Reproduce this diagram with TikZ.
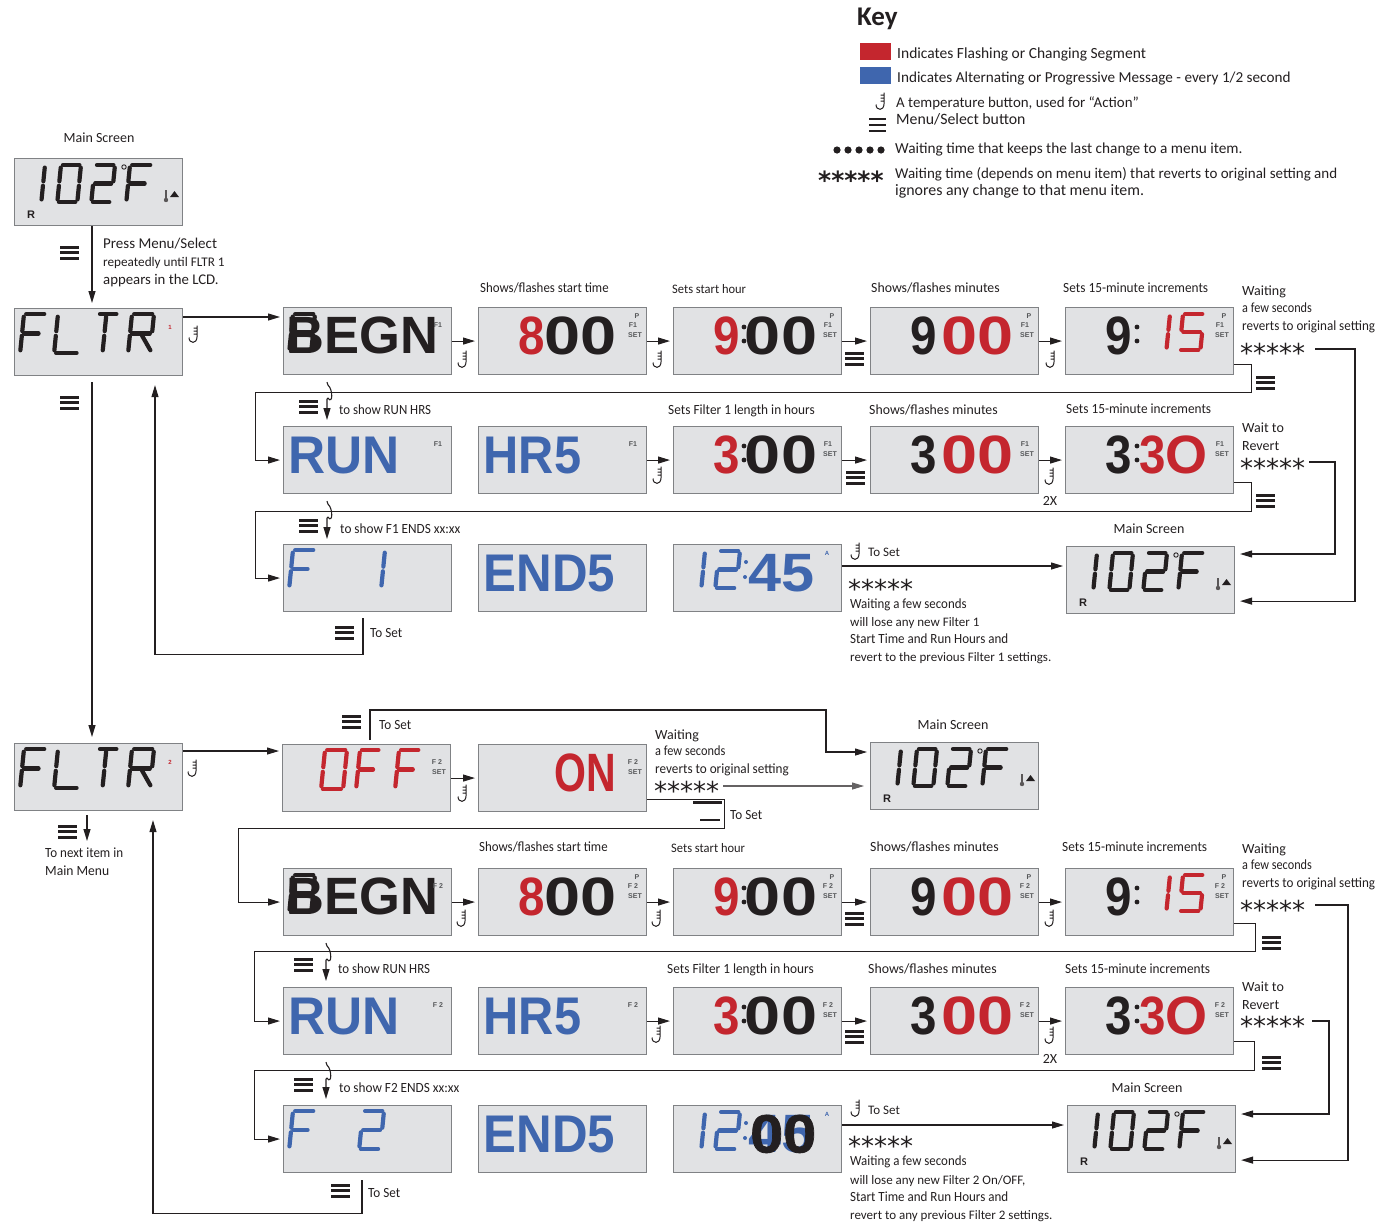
\documentclass[tikz,border=0pt]{standalone}
\usepackage{graphicx}
\usepackage{fontspec}
\setmainfont{Carlito}
\newfontfamily\lcdfont{Liberation Sans}[BoldFont=* Bold]
\newfontfamily\lcdfat{Liberation Sans Bold}[FakeBold=1.2]
\newfontfamily\dvfont{DejaVu Sans}
\usetikzlibrary{arrows.meta,calc}
\definecolor{ink}{HTML}{231F20}
\definecolor{lcdred}{HTML}{C4262E}
\definecolor{lcdblue}{HTML}{3F66AE}
\definecolor{lcdbg}{HTML}{E1E2E4}
\definecolor{lcdedge}{HTML}{808285}
\definecolor{tagcol}{HTML}{555759}
\tikzset{
 lcdbox/.style={draw=lcdedge,fill=lcdbg,line width=1.1pt,minimum width=168pt,minimum height=67pt,inner sep=0pt,anchor=north west},
 txt/.style={anchor=west,inner sep=0pt,text=ink,text height=12pt,text depth=3pt,font=\fontsize{14}{14}\selectfont},
 ctr/.style={txt,anchor=center},
 fs/.style={font=\fontsize{#1}{#1}\selectfont},
 small/.style={font=\fontsize{13}{13}\selectfont},
 tagtxt/.style={inner sep=0pt,text=tagcol,font=\lcdfont\bfseries\fontsize{7}{7}\selectfont},
 bigt/.style={anchor=base west,inner sep=0pt,text=ink,font=\lcdfont\bfseries\fontsize{54}{54}\selectfont},
 conn/.style={draw=ink,line width=1.1pt},
 arr/.style={conn,-{Triangle[length=12pt,width=7pt]},shorten >=3pt},
 starry/.style={anchor=base west,inner sep=0pt,text=ink,font=\dvfont\fontsize{26}{26}\selectfont},
}
\newcounter{nn}
\newcommand\sx[2]{\scalebox{#1}[1]{#2}}
\newcommand\lbl[4][]{\stepcounter{nn}\node[txt,#1] (n\arabic{nn}) at (#2,#3) {#4};}
\newcommand\Sa{\draw[sg] (.1,0)--(.92,0);}
\newcommand\Sb{\draw[sg] (1,.07)--(1,.44);}
\newcommand\Sc{\draw[sg] (1,.56)--(1,.93);}
\newcommand\Sd{\draw[sg] (.08,1)--(.9,1);}
\newcommand\Se{\draw[sg] (0,.56)--(0,.93);}
\newcommand\Sf{\draw[sg] (0,.07)--(0,.44);}
\newcommand\Sg{\draw[sg] (.1,.5)--(.75,.5);}
\newcommand\Sh{\draw[sg] (.1,.5)--(.9,.5);}
\newcommand\Zero{\Sa\Sb\Sc\Sd\Se\Sf}
\newcommand\Two{\Sa\Sb\Sh\Se\Sd}
\newcommand\Five{\Sa\Sf\Sh\Sc\Sd}
\newcommand\Eff{\Sa\Sf\Se\Sg}
\newcommand\One{\Sb\Sc}
\newcommand\seven[6]{\begin{scope}[shift={(#1,#2)},xslant=0.1,xscale=#3,yscale=#4,sg/.style={draw=#5,line width=4.2pt,line cap=round}]#6\end{scope}}
\newcommand\screen[4]{\node[lcdbox] (#1) at (#2,#3) {};\begin{scope}[shift={(#2,#3)}]#4\end{scope}}
\newcommand\tagt[3]{\stepcounter{nn}\node[tagtxt] (n\arabic{nn}) at (#1,#2) {#3};}
\newcommand\Pset[1]{\tagt{159}{9}{P}\tagt{155}{18}{#1}\tagt{157}{28}{SET}}
\newcommand\Fset[1]{\tagt{155}{18}{#1}\tagt{157}{28}{SET}}
\newcommand\Fonly[1]{\tagt{155}{18}{#1}}
\newcommand\bigT[3][]{\stepcounter{nn}\node[bigt,#1] (n\arabic{nn}) at (#2,47.5) {#3};}
\newcommand\OO{\sx{1.2}{0}}
\newcommand\NN[1]{\sx{.88}{#1}}
\newcommand\hk[3]{\begin{scope}[shift={(#1,#2)},rotate=#3]
 \draw[ink,line width=1pt] (3,-8.5)--(3,3) .. controls (3,10) and (-5,10) .. (-5,3.5) (3,-6)--(-.5,-6) (3,-3)--(-.5,-3) (3,0)--(-.5,0);
 \end{scope}}
\newcommand\mnu[2]{\draw[ink,line width=3pt] (#1,#2+1)--+(19,0) (#1,#2+6.5)--+(19,0) (#1,#2+12)--+(19,0);}
\newcommand\strs[3][]{\stepcounter{nn}\node[starry,#1] (n\arabic{nn}) at (#2,#3+14) {*****};}
\newcommand\mainlcd[3]{\screen{#1}{#2}{#3}{
 \seven{31}{7}{.01}{37}{ink}{\One}
 \seven{47}{7}{20}{37}{ink}{\Zero}
 \seven{81}{7}{20}{37}{ink}{\Two}
 \seven{116}{7}{22}{37}{ink}{\Eff}
 \draw[ink,line width=.9pt] (110,9) circle (2.2);
 \draw[ink!75,line width=2.2pt] (152,32)--(152,41);
 \fill[ink!75] (152,42) circle (2.2);
 \fill[ink] (156,39)--(165,39)--(160.5,33)--cycle;
 \stepcounter{nn}\node[inner sep=0pt,text=ink,font=\lcdfont\bfseries\fontsize{11}{11}\selectfont] (n\arabic{nn}) at (17,57) {R};
}}
\newcommand\fltr[4]{\screen{#1}{#2}{#3}{
 \seven{10}{6}{22}{39}{ink}{\Eff}
 \seven{44}{6}{25}{39}{ink}{\Sf\Se\Sd}
 \seven{84}{6}{20}{39}{ink}{\Sa\draw[sg] (.42,.07)--(.42,.44) (.42,.56)--(.42,.93);}
 \seven{118}{6}{22}{39}{ink}{\Sa\Sf\Se\Sh\Sb\draw[sg] (.55,.55)--(1,.93);}
 \stepcounter{nn}\node[inner sep=0pt,text=lcdred,font=\lcdfont\bfseries\fontsize{6}{6}\selectfont] (n\arabic{nn}) at (156,19) {#4};
}}
\newcommand\begn[4]{\screen{#1}{#2}{#3}{
 \seven{10}{7}{22}{37}{ink}{\Zero\Sh}
 \stepcounter{nn}\node[bigt,anchor=base west,font=\lcdfont\bfseries\fontsize{52.5}{52.5}\selectfont] (n\arabic{nn}) at (3.5,46) {BEGN};
 \Fonly{#4}
}}
\newcommand\eightb[4]{\screen{#1}{#2}{#3}{\bigT{40}{\textcolor{lcdred}{\NN{8}}\OO\OO}\Pset{#4}}}
\newcommand\ninea[4]{\screen{#1}{#2}{#3}{\fill[ink] (71,20) circle (2.4) (71,34) circle (2.4);\bigT{40.5}{\textcolor{lcdred}{\NN{9}}\kern4pt\OO\kern1pt\OO}\Pset{#4}}}
\newcommand\nineb[4]{\screen{#1}{#2}{#3}{\bigT{40.5}{\NN{9}\kern4pt\textcolor{lcdred}{\OO\OO}}\Pset{#4}}}
\newcommand\fifteen[4]{\screen{#1}{#2}{#3}{\bigT{40.5}{\NN{9}}\fill[ink] (72,20) circle (2.4) (72,34) circle (2.4);
 \seven{105}{7}{.01}{36}{lcdred}{\One}
 \seven{118}{7}{21}{36}{lcdred}{\Five}\Pset{#4}}}
\newcommand\threea[4]{\screen{#1}{#2}{#3}{\fill[ink] (71,20) circle (2.4) (71,34) circle (2.4);\bigT{40.5}{\textcolor{lcdred}{\NN{3}}\kern4pt\OO\kern1pt\OO}\Fset{#4}}}
\newcommand\threeb[4]{\screen{#1}{#2}{#3}{\bigT{40.5}{\NN{3}\kern4pt\textcolor{lcdred}{\OO\OO}}\Fset{#4}}}
\newcommand\thirty[4]{\screen{#1}{#2}{#3}{\bigT{40.5}{\NN{3}}\fill[ink] (72,20) circle (2.4) (72,34) circle (2.4);\bigT{74}{\textcolor{lcdred}{\NN{3}O}}\Fset{#4}}}
\newcommand\runl[4]{\screen{#1}{#2}{#3}{\bigT[font=\lcdfont\bfseries\fontsize{53}{53}\selectfont]{5.5}{\textcolor{lcdblue}{\sx{.97}{RUN}}}\Fonly{#4}}}
\newcommand\hrl[4]{\screen{#1}{#2}{#3}{\bigT[font=\lcdfont\bfseries\fontsize{53}{53}\selectfont]{5.5}{\textcolor{lcdblue}{\sx{.92}{HR5}}}\Fonly{#4}}}
\newcommand\ndfive[3]{\screen{#1}{#2}{#3}{\bigT[font=\lcdfont\bfseries\fontsize{53}{53}\selectfont]{5.5}{\textcolor{lcdblue}{\sx{.93}{END5}}}}}
\newcommand\clkdig{\seven{32}{7}{.01}{37}{lcdblue}{\One}
 \seven{46}{7}{21}{37}{lcdblue}{\Two}
 \fill[lcdblue] (73,18) circle (2) (72,33) circle (2);
 \stepcounter{nn}\node[inner sep=0pt,text=lcdblue,font=\lcdfont\bfseries\fontsize{6}{6}\selectfont] (n\arabic{nn}) at (154,9) {A};
 \bigT{75}{\textcolor{lcdblue}{\sx{1.1}{45}}}}
\newcommand\squig[3]{\draw[conn,-{Triangle[length=12pt,width=7pt]}] ($(#1.south west)+(#2,7)$) --++(1,3) .. controls +(5,4) and +(5,7) .. ++(0,13) --++(-1,1) -- (#3);}
\begin{document}
\begin{tikzpicture}[x=1pt,y=-1pt]
\useasboundingbox (0,0) rectangle (1390,1224);
% Key
\node[anchor=west,inner sep=0pt,text=ink,font=\bfseries\fontsize{27}{27}\selectfont] (keyt) at (857,19) {Key};
\fill[lcdred] (860,43) rectangle (891,60);
\fill[lcdblue] (860,67) rectangle (891,84);
\lbl[fs=15.5]{897}{54}{Indicates Flashing or Changing Segment}
\lbl[fs=15.2]{897}{78}{Indicates Alternating or Progressive Message - every 1/2 second}
\hk{881}{101}{0}
\lbl[fs=14.9]{896}{103}{A temperature button, used for “Action”}
\lbl[fs=15.8]{896}{120}{Menu/Select button}
\draw[ink,line width=2.4pt] (869,119)--(886,119) (869,125)--(886,125) (869,131)--(886,131);
\fill[ink] (837,150) circle (3.6) (848,150) circle (3.6) (859,150) circle (3.6) (870,150) circle (3.6) (881,150) circle (3.6);
\lbl[fs=15.3]{895}{149}{Waiting time that keeps the last change to a menu item.}
\strs[font=\dvfont\bfseries\fontsize{25}{25}\selectfont]{818}{175}
\lbl[fs=15]{895}{174}{Waiting time (depends on menu item) that reverts to original setting and}
\lbl[fs=15.9]{895}{191}{ignores any change to that menu item.}
% top-left
\lbl[ctr]{99}{138}{Main Screen}
\mainlcd{mainT}{14}{158}
\fltr{fltrA}{14}{308}{1}
\mnu{60}{246}
\lbl[fs=15]{103}{244}{Press Menu/Select}
\lbl[fs=13.2]{103}{262}{repeatedly until FLTR 1}
\lbl[fs=14.8]{103}{280}{appears in the LCD.}
\hk{194}{334}{0}
\mnu{60}{396}
% row 1
\begn{begnA}{283}{307}{F1}
\eightb{sA}{478}{307}{F1}
\ninea{nA}{673}{307}{F1}
\nineb{mA}{870}{307}{F1}
\fifteen{qA}{1065}{307}{F1}
\lbl{480}{288}{\sx{.92}{Shows/flashes start time}}
\lbl[small]{672}{289}{\sx{.96}{Sets start hour}}
\lbl{871}{288}{\sx{.985}{Shows/flashes minutes}}
\lbl{1063}{288}{\sx{.95}{Sets 15-minute increments}}
\lbl{1242}{291}{Waiting}
\lbl{1242}{308}{\sx{.875}{a few seconds}}
\lbl{1242}{326}{\sx{.935}{reverts to original setting}}
\strs{1240}{348}
\hk{463}{359}{0}\hk{658}{359}{0}\hk{1051}{359}{0}
\mnu{845}{352}\mnu{1256}{376}\mnu{299}{400}
\lbl{339}{410}{\sx{.92}{to show RUN HRS}}
% row 2
\runl{runA}{283}{426}{F1}
\hrl{hrA}{478}{426}{F1}
\threea{tA}{673}{426}{F1}
\threeb{uA}{870}{426}{F1}
\thirty{vA}{1065}{426}{F1}
\lbl{668}{410}{\sx{.95}{Sets Filter 1 length in hours}}
\lbl{869}{410}{\sx{.985}{Shows/flashes minutes}}
\lbl{1066}{409}{\sx{.95}{Sets 15-minute increments}}
\lbl{1242}{428}{Wait to}
\lbl{1242}{446}{Revert}
\strs{1240}{463}
\hk{658}{475}{0}\hk{1050}{476}{0}
\lbl[ctr]{1050}{501}{2X}
\mnu{846}{471}\mnu{1256}{494}\mnu{299}{519}
\lbl{340}{529}{\sx{.945}{to show F1 ENDS xx:xx}}
% row 3
\screen{fA}{283}{544}{\seven{10}{6}{22}{38}{lcdblue}{\Eff}\seven{102}{6}{.01}{38}{lcdblue}{\One}}
\ndfive{eA}{478}{544}
\screen{cA}{673}{544}{\clkdig}
\mainlcd{mainA}{1066}{546}
\lbl[ctr]{1149}{529}{Main Screen}
\hk{856}{551}{0}
\lbl[small]{868}{552}{To Set}
\strs{848}{584}
\lbl{850}{604}{\sx{.92}{Waiting a few seconds}}
\lbl[small]{850}{622}{will lose any new Filter 1}
\lbl{850}{639}{\sx{.93}{Start Time and Run Hours and}}
\lbl[small]{850}{657}{revert to the previous Filter 1 settings.}
\mnu{335}{626}
\lbl{370}{633}{\sx{.94}{To Set}}
% second block
\fltr{fltrB}{14}{743}{2}
\hk{193}{768}{0}
\mnu{58}{825}
\lbl{45}{853}{\sx{.93}{To next item in}}
\lbl{45}{871}{\sx{.97}{Main Menu}}
\screen{off}{282}{744}{
 \seven{43}{6}{22}{39}{lcdred}{\Zero}
 \seven{78}{6}{20}{39}{lcdred}{\Eff}
 \seven{117}{6}{21}{39}{lcdred}{\Eff}
 \Fset{F 2}}
\screen{on}{478}{744}{\bigT[anchor=base east]{138}{\textcolor{lcdred}{\sx{.76}{ON}}}\Fset{F 2}}
\mainlcd{mainC}{870}{742}
\lbl[ctr]{953}{725}{Main Screen}
\mnu{342}{715}
\lbl{379}{725}{\sx{.94}{To Set}}
\hk{463}{793}{0}
\lbl{655}{735}{Waiting}
\lbl{655}{751}{\sx{.88}{a few seconds}}
\lbl{655}{769}{\sx{.94}{reverts to original setting}}
\strs{654}{786}
\draw[ink,line width=3pt] (693,802)--(722,802);
\draw[ink,line width=2.4pt] (700,820)--(720,820);
\lbl{730}{815}{\sx{.94}{To Set}}
% row 4
\begn{begnB}{283}{868}{F 2}
\eightb{sB}{478}{868}{F 2}
\ninea{nB}{673}{868}{F 2}
\nineb{mB}{870}{868}{F 2}
\fifteen{qB}{1065}{868}{F 2}
\lbl{479}{847}{\sx{.92}{Shows/flashes start time}}
\lbl[small]{671}{848}{\sx{.96}{Sets start hour}}
\lbl{870}{847}{\sx{.985}{Shows/flashes minutes}}
\lbl{1062}{847}{\sx{.95}{Sets 15-minute increments}}
\lbl{1242}{849}{Waiting}
\lbl{1242}{865}{\sx{.875}{a few seconds}}
\lbl{1242}{883}{\sx{.935}{reverts to original setting}}
\strs{1240}{905}
\hk{462}{918}{0}\hk{657}{918}{0}\hk{1050}{918}{0}
\mnu{845}{912}\mnu{1262}{936}\mnu{294}{958}
\lbl{338}{969}{\sx{.92}{to show RUN HRS}}
% row 5
\runl{runB}{283}{987}{F 2}
\hrl{hrB}{478}{987}{F 2}
\threea{tB}{673}{987}{F 2}
\threeb{uB}{870}{987}{F 2}
\thirty{vB}{1065}{987}{F 2}
\lbl{667}{969}{\sx{.95}{Sets Filter 1 length in hours}}
\lbl{868}{969}{\sx{.985}{Shows/flashes minutes}}
\lbl{1065}{969}{\sx{.95}{Sets 15-minute increments}}
\lbl{1242}{987}{Wait to}
\lbl{1242}{1005}{Revert}
\strs{1240}{1021}
\hk{657}{1034}{0}\hk{1050}{1035}{0}
\lbl[ctr]{1050}{1059}{2X}
\mnu{845}{1030}\mnu{1262}{1056}\mnu{294}{1078}
\lbl{339}{1088}{\sx{.945}{to show F2 ENDS xx:xx}}
% row 6
\screen{fB}{283}{1105}{\seven{10}{6}{22}{38}{lcdblue}{\Eff}\seven{80}{6}{21}{38}{lcdblue}{\Two}}
\ndfive{eB}{478}{1105}
\screen{cB}{673}{1105}{\clkdig
 \stepcounter{nn}\node[bigt,font=\lcdfat\fontsize{54}{54}\selectfont] (n\arabic{nn}) at (77,47.5) {\sx{1.1}{0}\sx{1.1}{0}};}
\mainlcd{mainB}{1067}{1105}
\lbl[ctr]{1147}{1088}{Main Screen}
\hk{856}{1108}{0}
\lbl[small]{868}{1110}{To Set}
\strs{848}{1141}
\lbl{850}{1161}{\sx{.92}{Waiting a few seconds}}
\lbl[small]{850}{1180}{will lose any new Filter 2 On/OFF,}
\lbl{850}{1197}{\sx{.93}{Start Time and Run Hours and}}
\lbl[small]{850}{1215}{revert to any previous Filter 2 settings.}
\mnu{331}{1184}
\lbl{368}{1193}{\sx{.94}{To Set}}
% connectors
\draw[arr] ($(mainT.south west)+(78,0)$) -- ($(fltrA.north west)+(78,-2)$);
\draw[arr] ($(fltrA.south west)+(78,6)$) -- ($(fltrB.north west)+(78,-3)$);
\draw[arr] ($(fltrA.north east)+(0,9)$) -- ($(begnA.north west)+(0,10)$);
\draw[arr] (begnA) -- (sA) ;
\draw[arr] (sA) -- (nA);
\draw[arr] (nA) -- (mA);
\draw[arr] (mA) -- (qA);
\draw[arr] (hrA) -- (tA);
\draw[arr] (tA) -- (uA);
\draw[arr] (uA) -- (vA);
\draw[arr] ($(qA.south east)+(0,-11)$) -| ++(17,28) -- ++(-996,0) |- (runA);
\draw[arr] ($(vA.south east)+(0,-12)$) -| ++(17,29) -- ++(-996,0) |- (fA);
\coordinate (sqA) at (327,420);
\coordinate (sqB) at (327,539);
\coordinate (sqC) at (326,981);
\coordinate (sqD) at (326,1099);
\squig{begnA}{44}{sqA}
\squig{runA}{44}{sqB}
\squig{begnB}{43}{sqC}
\squig{runB}{43}{sqD}
\draw[arr] ($(cA.north east)+(0,22)$) -- ($(mainA.north west)+(0,20)$);
\draw[arr] ($(fA.south west)+(80,6)$) |- ++(-208,36) -- ($(fltrA.south west)+(141,6)$);
\coordinate (wtA) at (1315,349);
\coordinate (wrA) at (1309,462);
\draw[arr] (wtA) -- (1355,349) |- ($(mainA.south east)+(2,-13)$);
\draw[arr] (wrA) -- (1335,462) |- ($(mainA.north east)+(2,8)$);
% second block connectors
\draw[arr] ($(fltrB.north east)+(0,8)$) -- ($(off.north west)+(0,7)$);
\coordinate (nxt) at (87,844);
\draw[arr] ($(fltrB.south west)+(73,4)$) -- (nxt);
\draw[arr] (off) -- (on);
\draw[arr] ($(off.north west)+(88,-4)$) |- (826,710) |- ($(mainC.north west)+(0,10)$);
\coordinate (wtC) at (723,786);
\draw[arr,draw=ink!70,shorten >=6pt] (wtC) -- (wtC -| mainC.west);
\draw[arr] ($(on.south east)+(0,-13)$) -| ++(77,29) -- ++(-486,0) |- (begnB);
\draw[arr] (begnB) -- (sB);
\draw[arr] (sB) -- (nB);
\draw[arr] (nB) -- (mB);
\draw[arr] (mB) -- (qB);
\draw[arr] (hrB) -- (tB);
\draw[arr] (tB) -- (uB);
\draw[arr] (uB) -- (vB);
\draw[arr] ($(qB.south east)+(0,-13)$) -| ++(21,28) -- ++(-1001,0) |- (runB);
\draw[arr] ($(vB.south east)+(0,-14)$) -| ++(20,29) -- ++(-1000,0) |- (fB);
\draw[arr] ($(cB.north east)+(0,20)$) -- ($(mainB.north west)+(0,20)$);
\draw[arr] ($(fB.south west)+(79,7)$) |- ++(-209,33) -- ($(fltrB.south west)+(139,6)$);
\coordinate (wtB) at (1315,905);
\coordinate (wrB) at (1312,1021);
\draw[arr] (wtB) -- (1348,905) |- ($(mainB.south east)+(2,-13)$);
\draw[arr] (wrB) -- (1329,1021) |- ($(mainB.north east)+(2,9)$);
\end{tikzpicture}
\end{document}
